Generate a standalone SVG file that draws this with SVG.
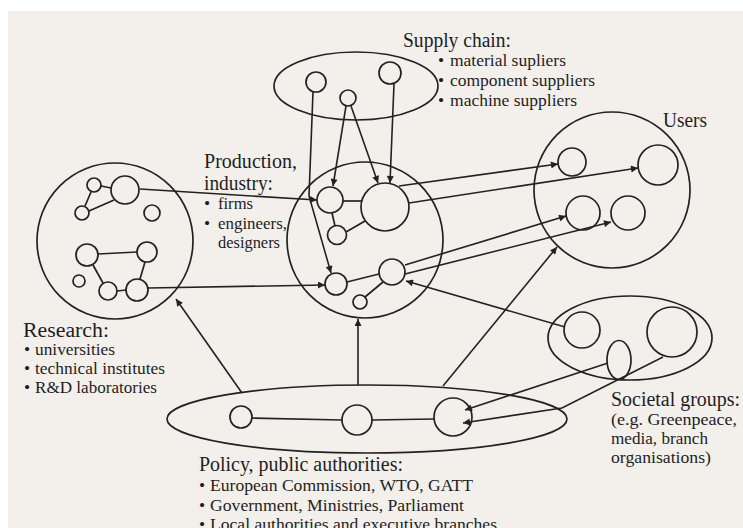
<svg xmlns="http://www.w3.org/2000/svg" width="743" height="528" viewBox="0 0 743 528">
<defs>
<style>
.s{fill:none;stroke:#222;stroke-width:1.7}
.c{fill:none;stroke:#222;stroke-width:1.6}
.t{font-family:"Liberation Serif","Times New Roman",serif;fill:#1e1e1e}
.h{font-size:20px}
.b{font-size:17.5px}
</style>
<marker id="ah" viewBox="0 0 10 10" refX="10" refY="5" markerWidth="9" markerHeight="7" markerUnits="userSpaceOnUse" orient="auto"><path d="M0,0 L10,5 L0,10 z" fill="#222"/></marker>
</defs>
<rect x="0" y="0" width="743" height="528" fill="#ffffff"/>
<rect x="8" y="11" width="735" height="517" fill="#f3f0ec"/>

<g id="supply">
<ellipse class="s" cx="356" cy="86" rx="82" ry="34"/>
<circle class="s" cx="316" cy="82" r="10"/>
<circle class="s" cx="348" cy="98" r="8"/>
<circle class="s" cx="390" cy="73" r="11"/>
<text class="t h" x="403" y="47" textLength="108" lengthAdjust="spacingAndGlyphs">Supply chain:</text>
<text class="t b" x="438" y="66">•</text>
<text class="t b" x="450" y="66" textLength="116" lengthAdjust="spacingAndGlyphs">material supliers</text>
<text class="t b" x="438" y="86">•</text>
<text class="t b" x="450" y="86" textLength="145" lengthAdjust="spacingAndGlyphs">component suppliers</text>
<text class="t b" x="438" y="106">•</text>
<text class="t b" x="450" y="106" textLength="127" lengthAdjust="spacingAndGlyphs">machine suppliers</text>
</g>

<g id="production">
<circle class="s" cx="365" cy="240" r="78"/>
<circle class="s" cx="330" cy="200" r="13"/>
<circle class="s" cx="385" cy="207" r="24"/>
<circle class="s" cx="337" cy="235" r="9.5"/>
<circle class="s" cx="336" cy="284" r="11"/>
<circle class="s" cx="392" cy="272" r="13"/>
<circle class="s" cx="360" cy="302" r="7"/>
<line class="s" x1="343" y1="201" x2="362" y2="201"/>
<line class="s" x1="332" y1="213" x2="335" y2="226"/>
<line class="s" x1="346" y1="232" x2="365" y2="221"/>
<line class="s" x1="347" y1="282" x2="379" y2="274"/>
<line class="s" x1="365" y1="297" x2="383" y2="282"/>
<text class="t h" x="204" y="168" textLength="93" lengthAdjust="spacingAndGlyphs">Production,</text>
<text class="t h" x="204" y="190" textLength="69" lengthAdjust="spacingAndGlyphs">industry:</text>
<text class="t b" x="204" y="209">•</text>
<text class="t b" x="218" y="209" textLength="35" lengthAdjust="spacingAndGlyphs">firms</text>
<text class="t b" x="204" y="229">•</text>
<text class="t b" x="218" y="229" textLength="69" lengthAdjust="spacingAndGlyphs">engineers,</text>
<text class="t b" x="218" y="248" textLength="62" lengthAdjust="spacingAndGlyphs">designers</text>
</g>

<g id="research">
<circle class="s" cx="115" cy="241" r="78"/>
<circle class="s" cx="94" cy="185" r="7"/>
<circle class="s" cx="125" cy="190" r="14"/>
<circle class="s" cx="82" cy="213" r="7"/>
<circle class="s" cx="152" cy="213" r="8"/>
<circle class="s" cx="87" cy="255" r="11"/>
<circle class="s" cx="147" cy="252" r="10"/>
<circle class="s" cx="79" cy="281" r="6"/>
<circle class="s" cx="108" cy="291" r="9"/>
<circle class="s" cx="137" cy="290" r="11"/>
<line class="s" x1="101" y1="186" x2="111" y2="188"/>
<line class="s" x1="91" y1="192" x2="85" y2="206"/>
<line class="s" x1="89" y1="211" x2="114" y2="200"/>
<line class="s" x1="98" y1="254" x2="137" y2="252"/>
<line class="s" x1="93" y1="265" x2="103" y2="283"/>
<line class="s" x1="117" y1="291" x2="126" y2="290"/>
<line class="s" x1="140" y1="279" x2="145" y2="262"/>
<text class="t h" x="23" y="337" textLength="86" lengthAdjust="spacingAndGlyphs">Research:</text>
<text class="t b" x="24" y="355">•</text>
<text class="t b" x="35" y="355" textLength="80" lengthAdjust="spacingAndGlyphs">universities</text>
<text class="t b" x="24" y="374">•</text>
<text class="t b" x="35" y="374" textLength="130" lengthAdjust="spacingAndGlyphs">technical institutes</text>
<text class="t b" x="24" y="393">•</text>
<text class="t b" x="35" y="393" textLength="122" lengthAdjust="spacingAndGlyphs">R&amp;D laboratories</text>
</g>

<g id="users">
<circle class="s" cx="612" cy="190" r="78"/>
<circle class="s" cx="572" cy="162" r="14"/>
<circle class="s" cx="658" cy="165" r="20"/>
<circle class="s" cx="583" cy="213" r="17"/>
<circle class="s" cx="628" cy="213" r="17"/>
<text class="t h" x="663" y="127" textLength="44" lengthAdjust="spacingAndGlyphs">Users</text>
</g>

<g id="societal">
<ellipse class="s" cx="630" cy="338" rx="82" ry="42"/>
<circle class="s" cx="582" cy="330" r="18"/>
<circle class="s" cx="672" cy="332" r="25"/>
<ellipse class="s" cx="619" cy="360" rx="12" ry="19.5"/>
<text class="t h" x="611" y="406" textLength="129" lengthAdjust="spacingAndGlyphs">Societal groups:</text>
<text class="t b" x="611" y="425" textLength="126" lengthAdjust="spacingAndGlyphs">(e.g. Greenpeace,</text>
<text class="t b" x="611" y="444" textLength="97" lengthAdjust="spacingAndGlyphs">media, branch</text>
<text class="t b" x="611" y="463" textLength="100" lengthAdjust="spacingAndGlyphs">organisations)</text>
</g>

<g id="policy">
<ellipse class="s" cx="367" cy="419" rx="200" ry="34"/>
<circle class="s" cx="241" cy="417" r="11"/>
<circle class="s" cx="357" cy="420" r="15"/>
<circle class="s" cx="453" cy="417" r="19"/>
<line class="s" x1="252" y1="418" x2="342" y2="420"/>
<line class="s" x1="372" y1="420" x2="434" y2="419"/>
<text class="t h" x="199" y="471" textLength="204" lengthAdjust="spacingAndGlyphs">Policy, public authorities:</text>
<text class="t b" x="199" y="491">•</text>
<text class="t b" x="210" y="491" textLength="263" lengthAdjust="spacingAndGlyphs">European Commission, WTO, GATT</text>
<text class="t b" x="199" y="511">•</text>
<text class="t b" x="210" y="511" textLength="254" lengthAdjust="spacingAndGlyphs">Government, Ministries, Parliament</text>
<text class="t b" x="199" y="530">•</text>
<text class="t b" x="210" y="530" textLength="287" lengthAdjust="spacingAndGlyphs">Local authorities and executive branches</text>
</g>

<g id="connectors">
<polyline class="c" points="313,92 309,196 331,273" marker-end="url(#ah)"/>
<line class="c" x1="346" y1="106" x2="333" y2="186" marker-end="url(#ah)"/>
<line class="c" x1="351" y1="106" x2="378" y2="183" marker-end="url(#ah)"/>
<line class="c" x1="394" y1="84" x2="390" y2="183" marker-end="url(#ah)"/>
<line class="c" x1="140" y1="189" x2="317" y2="200" marker-end="url(#ah)"/>
<line class="c" x1="148" y1="288" x2="325" y2="285" marker-end="url(#ah)"/>
<line class="c" x1="399" y1="186" x2="558" y2="164" marker-end="url(#ah)"/>
<line class="c" x1="409" y1="203" x2="638" y2="168" marker-end="url(#ah)"/>
<line class="c" x1="405" y1="265" x2="566" y2="216" marker-end="url(#ah)"/>
<line class="c" x1="405" y1="274" x2="611" y2="222" marker-end="url(#ah)"/>
<line class="c" x1="565" y1="327" x2="406" y2="281" marker-end="url(#ah)"/>
<line class="c" x1="242" y1="393" x2="176" y2="299" marker-end="url(#ah)"/>
<line class="c" x1="358" y1="385" x2="358" y2="319" marker-end="url(#ah)"/>
<line class="c" x1="443" y1="386" x2="557" y2="247" marker-end="url(#ah)"/>
<line class="c" x1="608" y1="363" x2="465" y2="410" marker-end="url(#ah)"/>
<polyline class="c" points="663,357 562,408 463,423" marker-end="url(#ah)"/>
</g>
</svg>
